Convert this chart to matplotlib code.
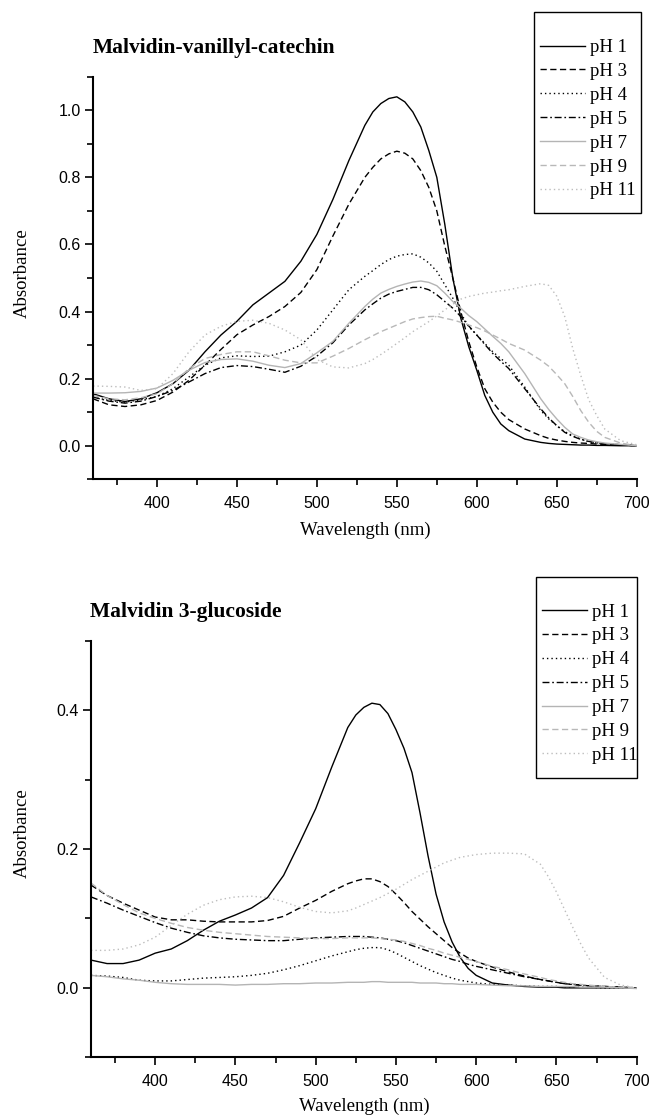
import matplotlib
matplotlib.use("Agg")
import matplotlib.pyplot as plt
from matplotlib.ticker import MultipleLocator, FormatStrFormatter
from matplotlib.patches import Rectangle

labels = ["pH 1", "pH 3", "pH 4", "pH 5", "pH 7", "pH 9", "pH 11"]

# ---------------- Malvidin-vanillyl-catechin ----------------
wl_mvc = [360, 370, 380, 390, 400, 410, 420, 430, 440, 450, 460, 470, 480, 490, 500, 510, 520,
          530, 535, 540, 545, 550, 555, 560, 565, 570, 575, 580, 585, 590, 595, 600, 605, 610, 615, 620,
          630, 640, 645, 650, 655, 660, 665, 670, 675, 680, 690, 700]

mvc_ph1 = [0.155, 0.140, 0.132, 0.140, 0.158, 0.185, 0.225, 0.280, 0.330, 0.371, 0.420, 0.455, 0.490, 0.550, 0.630, 0.734, 0.850,
           0.955, 0.995, 1.020, 1.035, 1.040, 1.025, 0.995, 0.950, 0.880, 0.800, 0.660, 0.500, 0.380, 0.295, 0.225, 0.150, 0.100, 0.065, 0.045,
           0.020, 0.010, 0.007, 0.005, 0.004, 0.003, 0.002, 0.002, 0.001, 0.001, 0.000, 0.000]
mvc_ph3 = [0.140, 0.122, 0.117, 0.122, 0.135, 0.160, 0.195, 0.240, 0.287, 0.331, 0.360, 0.385, 0.415, 0.457, 0.525, 0.625, 0.720,
           0.800, 0.830, 0.855, 0.870, 0.878, 0.872, 0.855, 0.820, 0.770, 0.700, 0.595, 0.500, 0.400, 0.310, 0.235, 0.170, 0.130, 0.100, 0.078,
           0.050, 0.030, 0.022, 0.017, 0.013, 0.010, 0.008, 0.007, 0.005, 0.004, 0.002, 0.000]
mvc_ph4 = [0.145, 0.135, 0.130, 0.137, 0.147, 0.170, 0.205, 0.240, 0.262, 0.268, 0.266, 0.267, 0.280, 0.300, 0.345, 0.405, 0.465,
           0.505, 0.522, 0.540, 0.555, 0.565, 0.570, 0.572, 0.562, 0.545, 0.520, 0.480, 0.440, 0.395, 0.355, 0.330, 0.305, 0.280, 0.260, 0.240,
           0.175, 0.105, 0.080, 0.060, 0.042, 0.030, 0.020, 0.012, 0.008, 0.006, 0.003, 0.000]
mvc_ph5 = [0.145, 0.133, 0.127, 0.133, 0.147, 0.165, 0.190, 0.215, 0.233, 0.239, 0.236, 0.228, 0.219, 0.237, 0.267, 0.307, 0.360,
           0.405, 0.423, 0.440, 0.452, 0.460, 0.466, 0.472, 0.472, 0.465, 0.450, 0.430, 0.410, 0.385, 0.357, 0.330, 0.302, 0.275, 0.252, 0.230,
           0.170, 0.110, 0.083, 0.060, 0.040, 0.028, 0.019, 0.013, 0.009, 0.006, 0.003, 0.000]
mvc_ph7 = [0.157, 0.157, 0.158, 0.162, 0.172, 0.195, 0.225, 0.248, 0.257, 0.259, 0.252, 0.240, 0.233, 0.245, 0.277, 0.311, 0.365,
           0.415, 0.437, 0.455, 0.466, 0.475, 0.482, 0.488, 0.491, 0.487, 0.477, 0.455, 0.430, 0.410, 0.388, 0.370, 0.348, 0.326, 0.305, 0.280,
           0.215, 0.140, 0.108, 0.080, 0.055, 0.035, 0.025, 0.017, 0.012, 0.008, 0.004, 0.000]
mvc_ph9 = [0.150, 0.140, 0.137, 0.143, 0.155, 0.185, 0.230, 0.260, 0.272, 0.280, 0.280, 0.268, 0.255, 0.247, 0.247, 0.267, 0.290,
           0.316, 0.328, 0.340, 0.350, 0.360, 0.370, 0.378, 0.382, 0.385, 0.386, 0.380, 0.375, 0.368, 0.360, 0.352, 0.342, 0.330, 0.318, 0.305,
           0.285, 0.255, 0.237, 0.212, 0.185, 0.147, 0.105, 0.070, 0.043, 0.025, 0.008, 0.000]
mvc_ph11 = [0.178, 0.177, 0.175, 0.165, 0.170, 0.215, 0.280, 0.330, 0.356, 0.371, 0.374, 0.365, 0.345, 0.316, 0.257, 0.235, 0.232,
            0.245, 0.257, 0.272, 0.288, 0.305, 0.322, 0.340, 0.355, 0.370, 0.387, 0.405, 0.422, 0.437, 0.445, 0.450, 0.455, 0.458, 0.462, 0.465,
            0.475, 0.483, 0.478, 0.446, 0.385, 0.290, 0.210, 0.137, 0.090, 0.050, 0.015, 0.003]

# ---------------- Malvidin 3-glucoside ----------------
wl_m3g = [360, 370, 380, 390, 400, 410, 420, 430, 440, 450, 460, 470, 480, 490, 500, 510,
          520, 525, 530, 535, 540, 545, 550, 555, 560, 565, 570, 575, 580, 585, 590, 595, 600,
          610, 620, 630, 640, 645, 650, 655, 660, 665, 670, 680, 690, 700]

m3g_ph1 = [0.040, 0.035, 0.035, 0.040, 0.050, 0.056, 0.068, 0.083, 0.096, 0.105, 0.115, 0.130, 0.162, 0.209, 0.258, 0.318,
           0.375, 0.393, 0.404, 0.410, 0.408, 0.395, 0.372, 0.345, 0.310, 0.252, 0.190, 0.135, 0.095, 0.066, 0.044, 0.028, 0.018,
           0.007, 0.004, 0.002, 0.001, 0.001, 0.001, 0.000, 0.000, 0.000, 0.000, 0.000, 0.000, 0.000]
m3g_ph3 = [0.148, 0.133, 0.122, 0.112, 0.102, 0.098, 0.098, 0.096, 0.095, 0.095, 0.095, 0.097, 0.103, 0.115, 0.126, 0.139,
           0.150, 0.154, 0.157, 0.157, 0.153, 0.146, 0.135, 0.123, 0.110, 0.099, 0.088, 0.078, 0.068, 0.058, 0.050, 0.043, 0.038,
           0.030, 0.023, 0.017, 0.012, 0.010, 0.008, 0.006, 0.005, 0.004, 0.003, 0.002, 0.001, 0.000]
m3g_ph4 = [0.018, 0.017, 0.015, 0.011, 0.010, 0.010, 0.012, 0.014, 0.015, 0.016, 0.018, 0.021, 0.026, 0.032, 0.039, 0.046,
           0.052, 0.055, 0.057, 0.058, 0.058, 0.055, 0.050, 0.044, 0.038, 0.032, 0.027, 0.022, 0.018, 0.014, 0.011, 0.009, 0.007,
           0.005, 0.004, 0.003, 0.002, 0.002, 0.002, 0.001, 0.001, 0.001, 0.001, 0.000, 0.000, 0.000]
m3g_ph5 = [0.131, 0.122, 0.112, 0.103, 0.094, 0.086, 0.080, 0.075, 0.072, 0.070, 0.069, 0.068, 0.068, 0.070, 0.072, 0.073,
           0.074, 0.074, 0.074, 0.073, 0.072, 0.070, 0.068, 0.065, 0.061, 0.057, 0.053, 0.049, 0.045, 0.041, 0.038, 0.034, 0.031,
           0.026, 0.021, 0.016, 0.012, 0.010, 0.008, 0.006, 0.005, 0.004, 0.003, 0.002, 0.001, 0.000]
m3g_ph7 = [0.018, 0.016, 0.013, 0.011, 0.008, 0.006, 0.005, 0.005, 0.005, 0.004, 0.005, 0.005, 0.006, 0.006, 0.007, 0.007,
           0.008, 0.008, 0.008, 0.009, 0.009, 0.008, 0.008, 0.008, 0.008, 0.007, 0.007, 0.007, 0.006, 0.006, 0.005, 0.005, 0.005,
           0.004, 0.003, 0.003, 0.002, 0.002, 0.002, 0.002, 0.002, 0.001, 0.001, 0.001, 0.000, -0.001]
m3g_ph9 = [0.151, 0.133, 0.120, 0.108, 0.100, 0.093, 0.087, 0.083, 0.080, 0.078, 0.076, 0.074, 0.073, 0.072, 0.071, 0.071,
           0.072, 0.072, 0.072, 0.072, 0.071, 0.070, 0.069, 0.067, 0.064, 0.061, 0.057, 0.054, 0.050, 0.047, 0.044, 0.041, 0.038,
           0.031, 0.026, 0.020, 0.015, 0.012, 0.010, 0.008, 0.006, 0.005, 0.004, 0.002, 0.001, 0.000]
m3g_ph11 = [0.054, 0.054, 0.056, 0.062, 0.073, 0.090, 0.106, 0.119, 0.127, 0.131, 0.132, 0.130, 0.124, 0.116, 0.110, 0.108,
            0.111, 0.115, 0.120, 0.125, 0.130, 0.136, 0.142, 0.149, 0.156, 0.162, 0.168, 0.174, 0.180, 0.184, 0.188, 0.190, 0.192,
            0.194, 0.194, 0.193, 0.178, 0.160, 0.138, 0.113, 0.088, 0.064, 0.043, 0.015, 0.004, 0.000]

mvc_series = [mvc_ph1, mvc_ph3, mvc_ph4, mvc_ph5, mvc_ph7, mvc_ph9, mvc_ph11]
m3g_series = [m3g_ph1, m3g_ph3, m3g_ph4, m3g_ph5, m3g_ph7, m3g_ph9, m3g_ph11]

styles = [
    dict(color="black", linestyle="-"),
    dict(color="black", linestyle=(0, (4.5, 2.5))),
    dict(color="black", linestyle=(0, (1, 2.2))),
    dict(color="black", linestyle=(0, (5, 2, 1.2, 2))),
    dict(color="#b4b4b4", linestyle="-"),
    dict(color="#b8b8b8", linestyle=(0, (4.5, 2.5))),
    dict(color="#bdbdbd", linestyle=(0, (1, 2.2))),
]

serif = ["Liberation Serif", "DejaVu Serif"]
sans = ["Liberation Sans", "DejaVu Sans"]

W, H = 652, 1117
fig = plt.figure(figsize=(W / 100, H / 100), dpi=100)


def fx(px):
    return px / W


def fy(py):
    return 1 - py / H


panels = [
    dict(wl=wl_mvc, series=mvc_series, title="Malvidin-vanillyl-catechin",
         rect=(93, 76.7, 636.7, 479.3), ylim=(-0.1, 1.1),
         title_xy=(93, 48), ylab_xy=(22, 273), xlab_y=530,
         legend_box=(534, 12.3, 641, 213)),
    dict(wl=wl_m3g, series=m3g_series, title="Malvidin 3-glucoside",
         rect=(91, 640.7, 636.7, 1057.3), ylim=(-0.1, 0.5),
         title_xy=(90, 612), ylab_xy=(22, 833), xlab_y=1106,
         legend_box=(536, 576.7, 637, 778.3)),
]

for p in panels:
    l, t, r, b = p["rect"]
    ax = fig.add_axes([fx(l), fy(b), fx(r) - fx(l), fy(t) - fy(b)])
    handles = []
    for vals, st, lab in zip(p["series"], styles, labels):
        h, = ax.plot(p["wl"], vals, linewidth=1.0, label=lab, **st)
        handles.append(h)
    ax.set_xlim(360, 700)
    ax.set_ylim(*p["ylim"])
    ax.xaxis.set_major_locator(MultipleLocator(50))
    ax.xaxis.set_minor_locator(MultipleLocator(25))
    ax.yaxis.set_major_locator(MultipleLocator(0.2))
    ax.yaxis.set_minor_locator(MultipleLocator(0.1))
    ax.spines["top"].set_visible(False)
    ax.spines["right"].set_visible(False)
    for s in ("left", "bottom"):
        ax.spines[s].set_linewidth(1.5)
    ax.tick_params(which="major", direction="out", length=6, width=1.2,
                   labelsize=11.5, pad=3)
    ax.tick_params(which="minor", direction="out", length=4, width=1.2)
    ax.tick_params(axis="x", which="major", pad=6)
    ax.yaxis.set_major_formatter(FormatStrFormatter("%.1f"))
    for lbl in ax.get_xticklabels() + ax.get_yticklabels():
        lbl.set_fontfamily(sans)

    fig.text(fx(p["title_xy"][0]), fy(p["title_xy"][1]), p["title"],
             fontfamily=serif, fontweight="bold", fontsize=15.5,
             ha="left", va="center")
    fig.text(fx(p["ylab_xy"][0]), fy(p["ylab_xy"][1]), "Absorbance",
             fontfamily=serif, fontsize=13.5, rotation=90,
             ha="center", va="center")
    fig.text(fx((l + r) / 2), fy(p["xlab_y"]), "Wavelength (nm)",
             fontfamily=serif, fontsize=13.5, ha="center", va="center")

    bl, bt, br, bb = p["legend_box"]
    fig.patches.append(Rectangle((fx(bl), fy(bb)), fx(br) - fx(bl), fy(bt) - fy(bb),
                                 transform=fig.transFigure, fill=False,
                                 edgecolor="black", linewidth=1.0))
    fig.legend(handles=handles, loc="upper left",
               bbox_to_anchor=(fx(bl + 2), fy(bt + 23)),
               frameon=False, prop=dict(family=serif, size=13.5),
               handlelength=2.4, handletextpad=0.3, labelspacing=0.36,
               borderpad=0.2, borderaxespad=0)

fig.savefig("out.png", dpi=100)
